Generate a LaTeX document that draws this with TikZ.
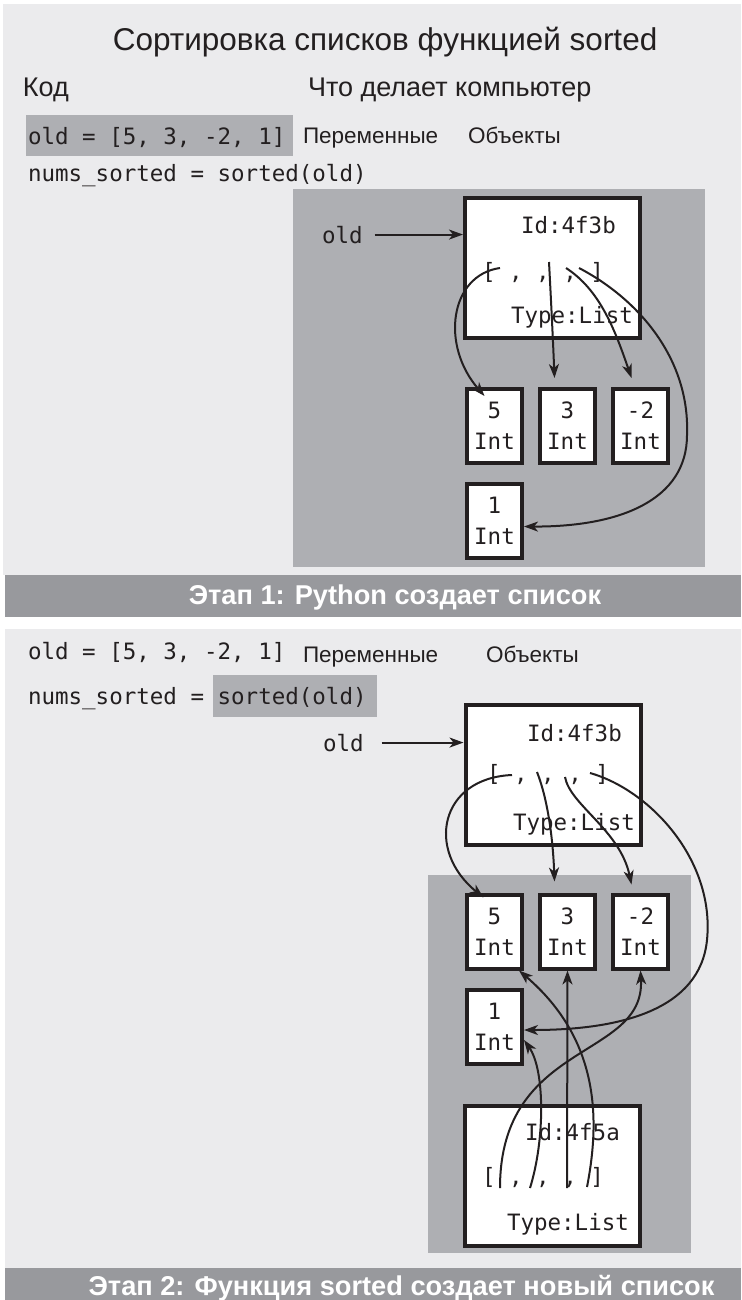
\documentclass[tikz,border=0pt]{standalone}
\usepackage{fontspec}
\setmainfont{Liberation Sans}
\setmonofont{DejaVu Sans Mono}
\usetikzlibrary{positioning,arrows.meta}
\definecolor{pagebg}{RGB}{235,235,237}
\definecolor{areagray}{RGB}{174,175,179}
\definecolor{bannergray}{RGB}{152,153,157}
\definecolor{ink}{RGB}{35,31,32}
\begin{document}
\begin{tikzpicture}[x=1pt, y=-1pt, line width=2pt, color=ink, node distance=73pt,
  >={Stealth[length=14pt,width=10pt,inset=4pt]},
  titletxt/.style={font=\fontsize{31.5}{36}\selectfont, inner sep=0pt, anchor=base},
  headtxt/.style={font=\fontsize{27}{32}\selectfont, inner sep=0pt, anchor=base west},
  labeltxt/.style={font=\fontsize{22.5}{26}\selectfont, inner sep=0pt, anchor=base west},
  codetxt/.style={font=\ttfamily\fontsize{22.5}{31}\selectfont, inner sep=0pt, anchor=base west},
  bannertxt/.style={font=\bfseries\fontsize{27.2}{32}\selectfont, text=white, inner sep=0pt, anchor=base},
  listbox/.style={draw, line width=4pt, fill=white, minimum width=175pt, minimum height=140pt},
  intbox/.style={draw, line width=4pt, fill=white, minimum width=55pt, minimum height=74pt, inner sep=0pt, align=center, font=\ttfamily\fontsize{22.5}{31}\selectfont}]
\fill[white] (0,0) rectangle (741,1300);
\useasboundingbox (0,0) rectangle (741,1300);
\fill[pagebg] (3,4) rectangle (741,575);
\fill[bannergray] (5,575) rectangle (741,617);
\fill[pagebg] (5,629) rectangle (741,1268);
\fill[bannergray] (5,1268) rectangle (741,1300);
\fill[areagray] (26,115) rectangle (293,156);
\fill[areagray] (293,189) rectangle (705,567);
\fill[areagray] (213,675) rectangle (377,717);
\fill[areagray] (428,875) rectangle (691,1253);

\node[titletxt] (title) at (385,51) {Сортировка списков функцией sorted};
\node[headtxt] (code) at (22,97) {Код};
\node[headtxt] (computer) at (307,97) {Что делает компьютер};
\node[codetxt] (line1a) at (27,145) {old = [5, 3, -2, 1]};
\node[labeltxt] (vars1) at (302,144) {Переменные};
\node[labeltxt] (objs1) at (467,144) {Объекты};
\node[codetxt] (line2a) at (27,182) {nums{\char"5F}sorted = sorted(old)};

\node[listbox] (list1) at (552.5,268) {};
\node[codetxt] (id1) at (520,233) {Id:4f3b};
\node[codetxt] (items1) at (481,279) {[ , , , ]};
\node[codetxt] (type1) at (510,323) {Type:List};
\node[codetxt] (old1) at (321,243) {old};
\draw[->, shorten <=11pt] (old1.east) -- (old1.east -| list1.west);

\node[intbox] (n5) at (494.5,426) {5\\Int};
\node[intbox] (n3) [right of=n5] {3\\Int};
\node[intbox] (nm2) [right of=n3] {-2\\Int};
\node[intbox] (n1) [node distance=94.5pt, below of=n5] {1\\Int};

\coordinate (s1a) at (500,268);
\coordinate (s1b) at (549,262);
\coordinate (s1c) at (566,268);
\coordinate (s1d) at (579,268);
\draw[->] (s1a) .. controls (450,275) and (440,345) .. ([xshift=-10pt,yshift=-9pt]n5.north);
\draw[->] (s1b) .. controls (551,300) and (553,340) .. ([xshift=-13pt,yshift=9pt]n3.north);
\draw[->] (s1c) .. controls (600,290) and (615,330) .. ([xshift=-9pt,yshift=9pt]nm2.north);
\draw[->] (s1d) .. controls (640,300) and (690,360) .. (687,435) .. controls (687,500) and (620,527) .. ([yshift=-6pt]n1.east);

\node[bannertxt] (stage1) at (395,604) {Этап 1: Python создает список};

\node[codetxt] (line1b) at (27,659) {old = [5, 3, -2, 1]};
\node[labeltxt] (vars2) at (302,662) {Переменные};
\node[labeltxt] (objs2) at (485,662) {Объекты};
\node[codetxt] (line2b) at (27,704) {nums{\char"5F}sorted = sorted(old)};

\node[listbox] (list2) at (553,774.5) {};
\node[codetxt] (id2) at (526,741) {Id:4f3b};
\node[codetxt] (items2) at (486,781) {[ , , , ]};
\node[codetxt] (type2) at (512,830) {Type:List};
\node[codetxt] (old2) at (322,751) {old};
\draw[->, shorten <=17pt] (old2.east) -- (old2.east -| list2.west);

\node[intbox] (n5b) at (494.5,931.5) {5\\Int};
\node[intbox] (n3b) [right of=n5b] {3\\Int};
\node[intbox] (nm2b) [right of=n3b] {-2\\Int};
\node[intbox] (n1b) [node distance=95.5pt, below of=n5b] {1\\Int};

\node[listbox] (list3) at (552,1175.5) {};
\node[codetxt] (id3) at (524,1140) {Id:4f5a};
\node[codetxt] (items3) at (481,1184) {[ , , , ]};
\node[codetxt] (type3) at (506,1230) {Type:List};

\coordinate (s2a) at (512,775);
\coordinate (s2b) at (537,772);
\coordinate (s2c) at (565,777);
\coordinate (s2d) at (590,773);
\draw[->] (s2a) .. controls (440,778) and (425,850) .. ([xshift=-11pt,yshift=-5pt]n5b.north);
\draw[->] (s2b) .. controls (548,800) and (553,840) .. ([xshift=-13pt,yshift=11pt]n3b.north);
\draw[->] (s2c) .. controls (570,805) and (620,830) .. ([xshift=-9pt,yshift=8pt]nm2b.north);
\draw[->] (s2d) .. controls (650,790) and (715,860) .. (707,940) .. controls (700,1010) and (620,1030) .. ([yshift=-3pt]n1b.east);

\coordinate (s3a) at (500,1188);
\coordinate (s3b) at (530,1188);
\coordinate (s3c) at (567,1188);
\coordinate (s3d) at (587,1187);
\draw[->] (s3a) .. controls (500,1040) and (645,1060) .. (nm2b.south);
\draw[->] (s3b) .. controls (545,1140) and (545,1070) .. ([yshift=-13pt]n1b.east);
\draw[->] (s3c) -- (n3b.south);
\draw[->] (s3d) .. controls (600,1120) and (600,1040) .. ([xshift=-5pt]n5b.south east);

\node[bannertxt] (stage2) at (401.5,1295) {Этап 2: Функция sorted создает новый список};
\end{tikzpicture}
\end{document}
